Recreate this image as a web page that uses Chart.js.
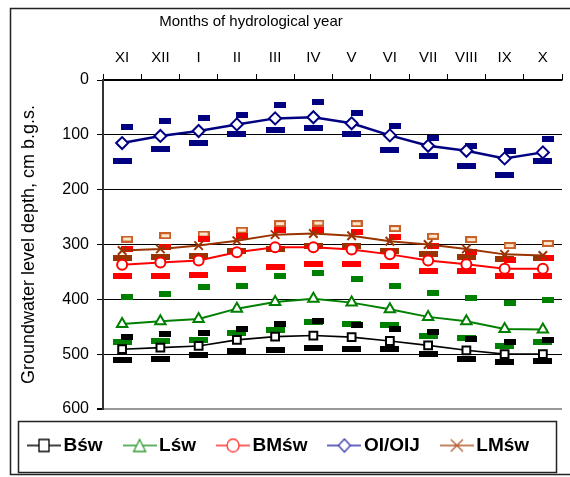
<!DOCTYPE html>
<html>
<head>
<meta charset="utf-8">
<script src="https://cdn.jsdelivr.net/npm/chart.js@4.4.0/dist/chart.umd.min.js"></script>
<style>
  html, body { margin: 0; padding: 0; background: #fff; }
</style>
</head>
<body>
<canvas id="gwChart" width="570" height="477"></canvas>
<script>
// months of the hydrological year
const months = ["XI", "XII", "I", "II", "III", "IV", "V", "VI", "VII", "VIII", "IX", "X"];
const depthTicks = [0, 100, 200, 300, 400, 500, 600];

// mean groundwater depth, cm b.g.s.
const bswMean = [491, 488, 485, 474, 468, 466, 469, 476, 484, 493, 500, 500];
const lswMean = [445, 440, 436, 417, 405, 399, 406, 418, 432, 440, 454, 455];
const bmswMean = [337, 333, 329, 314, 305, 305, 309, 318, 329, 336, 344, 344];
const oiMean = [115, 102, 93, 81, 70, 68, 79, 101, 120, 129, 143, 132];
const lmswMean = [311, 308, 302, 293, 282, 280, 284, 294, 300, 308, 318, 320];

// shallowest depth (upper dash)
const bswMin = [468, 463, 462, 455, 445, 439, 447, 454, 460, 472, 477, 474];
const lswMin = [396, 391, 378, 375, 357, 352, 363, 375, 388, 398, 407, 402];
const bmswMin = [308, 305, 290, 284, 274, 274, 277, 287, 302, 314, 328, 325];
const oiMin = [86, 75, 70, 63, 45, 40, 61, 84, 106, 120, 129, 107];
const lmswMin = [290, 284, 281, 274, 262, 261, 262, 271, 285, 291, 302, 298];

// deepest depth (lower dash)
const bswMax = [511, 508, 501, 495, 492, 489, 490, 491, 499, 508, 514, 513];
const lswMax = [477, 476, 474, 461, 456, 442, 445, 447, 466, 471, 485, 477];
const bmswMax = [358, 358, 355, 344, 341, 335, 335, 340, 349, 349, 358, 358];
const oiMax = [148, 125, 115, 98, 91, 88, 98, 128, 138, 157, 174, 148];
const lmswMax = [324, 323, 321, 312, 309, 303, 303, 312, 318, 322, 327, 325];

const FONT = "'Liberation Sans', Arial, sans-serif";
const xTitle = "Months of hydrological year";

// small canvas used as a dash marker
function dashImage(w, h, fill, stroke) {
  const c = document.createElement("canvas");
  c.width = w;
  c.height = h;
  const g = c.getContext("2d");
  g.fillStyle = fill;
  g.fillRect(0, 0, w, h);
  if (stroke) {
    g.strokeStyle = stroke;
    g.lineWidth = 2;
    g.strokeRect(1, 1, w - 2, h - 2);
  }
  return c;
}

// legend symbol: line with marker in the middle
function legendIcon(color, style) {
  const c = document.createElement("canvas");
  c.width = 34;
  c.height = 16;
  const g = c.getContext("2d");
  g.strokeStyle = color;
  g.lineWidth = 1.3;
  g.beginPath();
  g.moveTo(0, 8);
  g.lineTo(34, 8);
  g.stroke();
  g.fillStyle = "#fff";
  const cx = 17, cy = 8;
  g.beginPath();
  if (style === "rect") g.rect(cx - 5, cy - 6, 10, 12);
  else if (style === "triangle") { g.moveTo(cx, cy - 6); g.lineTo(cx + 6, cy + 6); g.lineTo(cx - 6, cy + 6); g.closePath(); }
  else if (style === "circle") g.ellipse(cx, cy, 6, 6.5, 0, 0, Math.PI * 2);
  else if (style === "rectRot") { g.moveTo(cx, cy - 6.5); g.lineTo(cx + 6, cy); g.lineTo(cx, cy + 6.5); g.lineTo(cx - 6, cy); g.closePath(); }
  if (style === "crossRot") {
    g.moveTo(cx - 6, cy - 6); g.lineTo(cx + 6, cy + 6);
    g.moveTo(cx + 6, cy - 6); g.lineTo(cx - 6, cy + 6);
    g.stroke();
  } else {
    g.fill();
    g.stroke();
  }
  return c;
}

function meanSet(label, values, color, style, radius, width) {
  return {
    label: label,
    data: values,
    borderColor: color,
    borderWidth: width,
    pointStyle: style,
    pointRadius: radius,
    pointBorderWidth: 2,
    pointBackgroundColor: "#fff",
    pointBorderColor: color,
    tension: 0,
    order: 1,
  };
}

// dashes are put on a hidden linear axis so the upper ones can sit a bit right
function dashSet(label, values, shift, img) {
  return {
    label: label,
    data: values.map((v, i) => ({ x: i + shift, y: v })),
    xAxisID: "x2",
    showLine: false,
    pointStyle: img,
    pointRadius: 5,
    order: 2,
  };
}

const datasets = [
  meanSet("Bśw", bswMean, "#000000", "rect", 5.5, 1.6),
  meanSet("Lśw", lswMean, "#008000", "triangle", 6, 2),
  meanSet("BMśw", bmswMean, "#ff0000", "circle", 5, 2),
  meanSet("OI/OIJ", oiMean, "#000080", "rectRot", 6, 2.5),
  meanSet("LMśw", lmswMean, "#993300", "crossRot", 6, 2),

  dashSet("Bśw min", bswMin, 0.13, dashImage(12, 6, "#000000")),
  dashSet("Bśw max", bswMax, 0, dashImage(19, 6, "#000000")),
  dashSet("Lśw min", lswMin, 0.13, dashImage(12, 6, "#008000")),
  dashSet("Lśw max", lswMax, 0, dashImage(19, 6, "#008000")),
  dashSet("BMśw min", bmswMin, 0.13, dashImage(12, 6, "#ff0000")),
  dashSet("BMśw max", bmswMax, 0, dashImage(19, 6, "#ff0000")),
  dashSet("OI/OIJ min", oiMin, 0.13, dashImage(12, 6, "#000080")),
  dashSet("OI/OIJ max", oiMax, 0, dashImage(19, 6, "#000080")),
  dashSet("LMśw min", lmswMin, 0.13, dashImage(12, 7, "#ffe6cc", "#c8602a")),
  dashSet("LMśw max", lmswMax, 0, dashImage(19, 6, "#993300")),
];

const legendItems = [
  { text: "Bśw", color: "#000000", style: "rect" },
  { text: "Lśw", color: "#2e9a2e", style: "triangle" },
  { text: "BMśw", color: "#ff3030", style: "circle" },
  { text: "OI/OIJ", color: "#3535a8", style: "rectRot" },
  { text: "LMśw", color: "#b0582c", style: "crossRot" },
];

// outer frame, legend box and the top title (it sits left of centre)
const framePlugin = {
  id: "frames",
  beforeDraw(chart) {
    const g = chart.ctx;
    g.save();
    g.fillStyle = "#fff";
    g.fillRect(0, 0, chart.width, chart.height);
    g.strokeStyle = "#222";
    g.lineWidth = 1.5;
    g.strokeRect(10.5, 8.5, 580, 466);
    g.strokeRect(18.5, 421.5, 538, 51);
    g.restore();
  },
  afterDraw(chart) {
    const g = chart.ctx;
    g.save();
    g.fillStyle = "#000";
    g.font = "15px " + FONT;
    g.textAlign = "center";
    g.textBaseline = "middle";
    g.fillText(xTitle, 251, 22);
    g.restore();
  },
};

const ctxGw = document.getElementById("gwChart");

new Chart(ctxGw, {
  type: "line",
  data: { labels: months, datasets: datasets },
  plugins: [framePlugin],
  options: {
    responsive: false,
    animation: false,
    layout: { padding: { top: 8, left: 7, right: 0, bottom: 12 } },
    plugins: {
      tooltip: { enabled: false },
      legend: {
        position: "bottom",
        align: "start",
        maxHeight: 69,
        labels: {
          usePointStyle: true,
          pointStyleWidth: 20,
          padding: 27,
          color: "#000",
          font: { family: FONT, size: 19, weight: "bold" },
          generateLabels: () =>
            legendItems.map((it, i) => ({
              text: it.text,
              pointStyle: legendIcon(it.color, it.style),
              fillStyle: it.color,
              strokeStyle: it.color,
              lineWidth: 0,
              hidden: false,
              datasetIndex: i,
            })),
        },
      },
    },
    scales: {
      x: {
        type: "category",
        position: "top",
        offset: true,
        grid: { offset: true, drawOnChartArea: false, tickLength: 6, color: "#000", lineWidth: 1 },
        border: { display: true, color: "#000", width: 1.5 },
        ticks: { font: { family: FONT, size: 15 }, color: "#000", padding: 7, maxRotation: 0, autoSkip: false },
        afterFit: (s) => { s.height = 72; },
      },
      x2: { type: "linear", display: false, min: -0.5, max: 11.5 },
      y: {
        reverse: true,
        min: depthTicks[0],
        max: depthTicks[depthTicks.length - 1],
        afterBuildTicks: (s) => { s.ticks = depthTicks.map((v) => ({ value: v })); },
        ticks: { font: { family: FONT, size: 16 }, color: "#000", padding: 8 },
        grid: {
          color: (c) => (c.tick && c.tick.value === 600 ? "#999" : "#000"),
          lineWidth: (c) => (c.tick && c.tick.value === 600 ? 2 : 1),
          tickColor: "#000",
          tickLength: 6,
        },
        border: { display: true, color: "#333", width: 2 },
        title: {
          display: true,
          text: "Groundwater level depth, cm b.g.s.",
          font: { family: FONT, size: 18 },
          color: "#000",
          padding: { top: 11, bottom: 0 },
        },
        afterFit: (s) => { s.width = 96; },
      },
    },
  },
});
</script>
</body>
</html>
